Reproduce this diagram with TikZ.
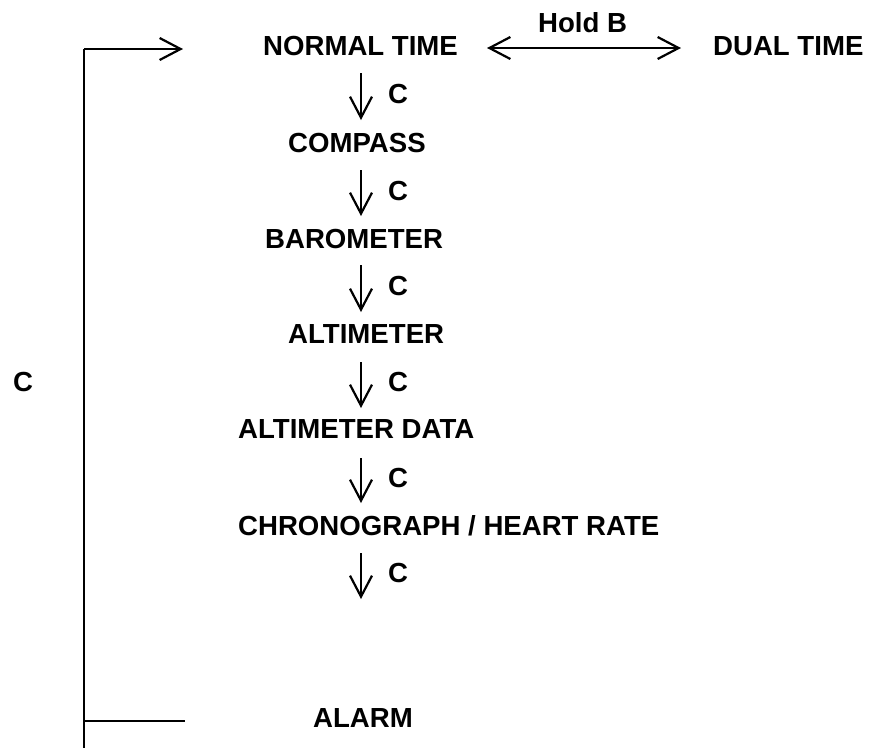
\documentclass[tikz,border=0pt]{standalone}
\usepackage{fontspec}
\setmainfont{Liberation Sans}
\usetikzlibrary{arrows.meta}
\begin{document}
\begin{tikzpicture}[x=1pt,y=-1pt,
  lbl/.style={anchor=base west,inner sep=0pt,font=\fontsize{27.6}{33}\selectfont\bfseries},
  barb/.tip={Straight Barb[length=21pt,width=22pt,line width=2.2pt]},
  arr/.style={line width=2.2pt,-barb},
  darr/.style={line width=2.2pt,barb-barb},
  thin/.style={line width=1.2pt}]
\useasboundingbox (0,0) rectangle (871,748);
% labels
\node[lbl] (nt) at (263,55) {NORMAL TIME};
\node[lbl] (dt) at (713,55) {DUAL TIME};
\node[lbl] (hb) at (538,32) {Hold B};
\node[lbl] (cp) at (288,152) {COMPASS};
\node[lbl] (bm) at (265,248) {BAROMETER};
\node[lbl] (al) at (288,343) {ALTIMETER};
\node[lbl] (ad) at (238,438) {ALTIMETER DATA};
\node[lbl] (ch) at (238,535) {CHRONOGRAPH / HEART RATE};
\node[lbl] (am) at (313,727) {ALARM};
\node[lbl] (cl) at (13,391) {C};
\node[lbl] (c1) at (388,103) {C};
\node[lbl] (c2) at (388,200) {C};
\node[lbl] (c3) at (388,295) {C};
\node[lbl] (c4) at (388,391) {C};
\node[lbl] (c5) at (388,487) {C};
\node[lbl] (c6) at (388,582) {C};
% arrow coordinates
\coordinate (a1s) at (361,73);  \coordinate (a1e) at (361,120);
\coordinate (a2s) at (361,170); \coordinate (a2e) at (361,216);
\coordinate (a3s) at (361,265); \coordinate (a3e) at (361,312);
\coordinate (a4s) at (361,362); \coordinate (a4e) at (361,408);
\coordinate (a5s) at (361,458); \coordinate (a5e) at (361,503);
\coordinate (a6s) at (361,553); \coordinate (a6e) at (361,599);
\foreach \i in {1,...,6} \draw[arr] (a\i s) -- (a\i e);
% hold B double arrow
\coordinate (dl) at (487,48); \coordinate (dr) at (681,48);
\draw[darr] (dl) -- (dr);
% loop bracket
\coordinate (bt) at (84,49); \coordinate (bte) at (183,49);
\coordinate (bb) at (84,748);
\coordinate (ba) at (84,721); \coordinate (bae) at (185,721);
\draw[thin] (bt) -- (bb);
\draw[arr] (bt) -- (bte);
\draw[thin] (ba) -- (bae);
\end{tikzpicture}
\end{document}
